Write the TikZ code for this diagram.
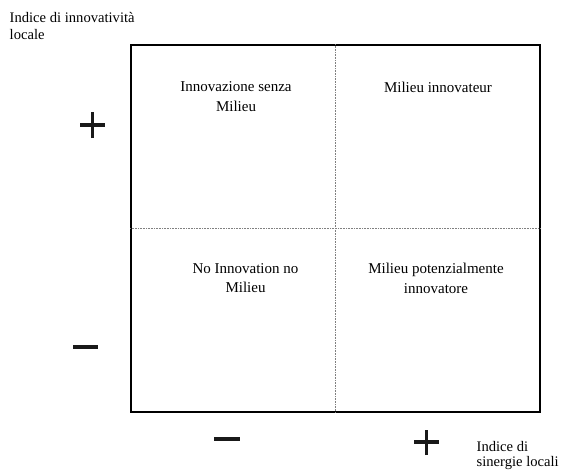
\documentclass[tikz,border=0pt]{standalone}
\usepackage{fontspec}
\setmainfont{Liberation Serif}
\begin{document}
\begin{tikzpicture}[x=1pt,y=-1pt,
  quad/.style={align=center,font=\fontsize{15}{19.5}\selectfont,inner sep=0pt,anchor=north},
  lab/.style={align=left,font=\fontsize{14.6}{17}\selectfont,inner sep=0pt,anchor=north west},
  sign/.style={line width=3.3pt,black!90}]
\useasboundingbox (0,0) rectangle (561,469);
\node[draw,line width=1.5pt,minimum width=409pt,minimum height=367pt,inner sep=0pt,anchor=north west] (box) at (130,44) {};
\draw[densely dotted,gray,line width=0.6pt] (box.north) -- (box.south);
\draw[densely dotted,gray,line width=0.6pt] (box.west) -- (box.east);
\node[quad] (q1) at (236,81.5) {Innovazione senza\\Milieu};
\node[quad] (q2) at (438,81.5) {Milieu innovateur};
\node[quad] (q3) at (245.5,263) {No Innovation no\\Milieu};
\node[quad] (q4) at (436,263) {Milieu potenzialmente\\innovatore};
\node[lab] (ly) at (9.5,12.5) {Indice di innovatività\\locale};
\node[lab,font=\fontsize{14.6}{15}\selectfont] (lx) at (476.5,441) {Indice di\\sinergie locali};
\coordinate (p1) at (92.5,125);
\draw[sign] ([xshift=-12.5pt]p1) -- ([xshift=12.5pt]p1) ([yshift=-13pt]p1) -- ([yshift=13pt]p1);
\coordinate (m1) at (85.5,347);
\draw[sign] ([xshift=-12.5pt]m1) -- ([xshift=12.5pt]m1);
\coordinate (m2) at (227,439);
\draw[sign] ([xshift=-13pt]m2) -- ([xshift=13pt]m2);
\coordinate (p2) at (426.5,442);
\draw[sign] ([xshift=-12.5pt]p2) -- ([xshift=12.5pt]p2) ([yshift=-13pt]p2) -- ([yshift=12.5pt]p2);
\end{tikzpicture}
\end{document}
